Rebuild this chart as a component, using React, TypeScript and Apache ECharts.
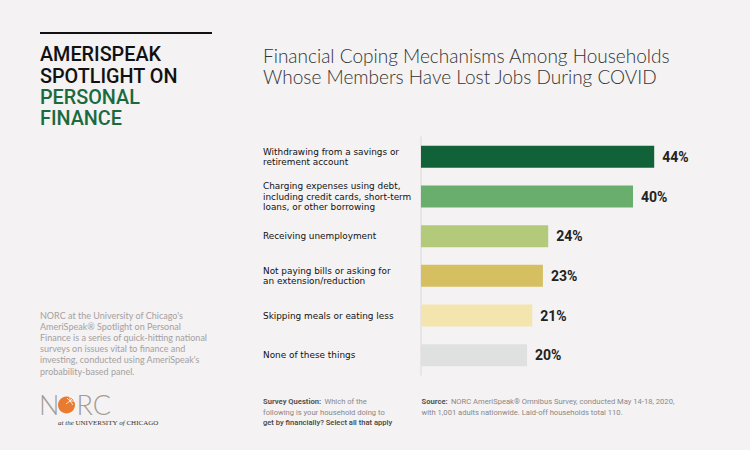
import React, { useEffect, useRef } from "react";
import * as echarts from "echarts";

const categories = [
  "Withdrawing from a savings or\nretirement account",
  "Charging expenses using debt,\nincluding credit cards, short-term\nloans, or other borrowing",
  "Receiving unemployment",
  "Not paying bills or asking for\nan extension/reduction",
  "Skipping meals or eating less",
  "None of these things",
];
const values = [44, 40, 24, 23, 21, 20];
const barColors = ["#116238", "#69ae6d", "#b3ca7a", "#d5bf60", "#f4e4ae", "#dfe0e0"];

const headingDark = ["AMERISPEAK", "SPOTLIGHT ON"];
const headingGreen = ["PERSONAL", "FINANCE"];
const titleLines = [
  "Financial Coping Mechanisms Among Households",
  "Whose Members Have Lost Jobs During COVID",
];
const description =
  "NORC at the University of Chicago's\nAmeriSpeak® Spotlight on Personal\nFinance is a series of quick-hitting national\nsurveys on issues vital to finance and\ninvesting, conducted using AmeriSpeak's\nprobability-based panel.";

export default function App() {
  const ref = useRef<HTMLDivElement>(null);
  useEffect(() => {
    document.body.style.margin = "0";
    document.body.style.background = "#f4f2f3";
    const chart = echarts.init(ref.current!, null, { renderer: "svg" });
    const heading: any[] = [];
    const hy = [54.7, 76.7, 97.7, 118.7];
    [...headingDark, ...headingGreen].forEach((t, i) => {
      heading.push({
        type: "text",
        x: 40,
        y: hy[i],
        style: {
          text: t,
          fill: i < 2 ? "#111111" : "#1a6a3e",
          font: "500 19.8px Roboto",
          verticalAlign: "middle",
          align: "left",
        },
      });
    });
    const titles = titleLines.map((t, i) => ({
      type: "text",
      x: 263,
      y: [55.3, 76.3][i],
      style: {
        text: t,
        fill: "#333333",
        font: "300 19px Lato",
        verticalAlign: "middle",
      },
    }));
    chart.setOption({
      animation: false,
      backgroundColor: "#f4f2f3",
      grid: { left: 421, top: 137, width: 318, height: 238, containLabel: false },
      xAxis: { type: "value", min: 0, max: 60, show: false },
      yAxis: {
        type: "category",
        data: categories,
        inverse: true,
        axisLine: { show: true, lineStyle: { color: "#e3e1e2", width: 1.5 } },
        axisTick: { show: false },
        splitLine: { show: false },
        axisLabel: {
          align: "left",
          margin: 158,
          fontSize: 8.9,
          lineHeight: 10.4,
          color: "#111111",
          fontFamily: "DejaVu Sans",
        },
      },
      series: [
        {
          type: "bar",
          barWidth: 22,
          data: values.map((v, i) => ({ value: v, itemStyle: { color: barColors[i] } })),
          label: {
            show: true,
            position: "right",
            distance: 8,
            formatter: "{c}%",
            fontSize: 14,
            fontWeight: "bold",
            color: "#222222",
            fontFamily: "Roboto",
          },
        },
      ],
      graphic: [
        {
          type: "line",
          shape: { x1: 40, y1: 33, x2: 212, y2: 33 },
          style: { stroke: "#111111", lineWidth: 2 },
        },
        ...heading,
        ...titles,
        {
          type: "text",
          x: 40,
          y: 343,
          style: {
            text: description,
            fill: "#a5a1a1",
            font: "9px Lato",
            lineHeight: 11.2,
            verticalAlign: "middle",
          },
        },
        {
          type: "text",
          x: 263,
          y: 411,
          style: {
            text: "{b|Survey Question:} {n|Which of the}\n{n|following is your household doing to}\n{d|get by financially? Select all that apply}",
            verticalAlign: "middle",
            rich: {
              b: { fontFamily: "Roboto", fontSize: 7.6, fontWeight: "bold", fill: "#555555", lineHeight: 10 },
              n: { fontFamily: "Roboto", fontSize: 7.6, fill: "#8a8888", lineHeight: 10 },
              d: { fontFamily: "Roboto", fontSize: 7.6, fontWeight: 500, fill: "#444444", lineHeight: 10 },
            },
          },
        },
        {
          type: "text",
          x: 421.5,
          y: 406,
          style: {
            text: "{b|Source:} {n|NORC AmeriSpeak® Omnibus Survey, conducted May 14-18, 2020,}\n{n|with 1,001 adults nationwide. Laid-off households total 110.}",
            verticalAlign: "middle",
            rich: {
              b: { fontFamily: "Roboto", fontSize: 7.6, fontWeight: "bold", fill: "#555555", lineHeight: 10 },
              n: { fontFamily: "Roboto", fontSize: 7.6, fill: "#8a8888", lineHeight: 10 },
            },
          },
        },
        {
          type: "text",
          x: 39,
          y: 404.5,
          style: { text: "N", font: "300 27px Lato", lineHeight: 18, fill: "#a39d95", verticalAlign: "middle" },
        },
        {
          type: "circle",
          shape: { cx: 66.5, cy: 405, r: 8.5 },
          style: { fill: "#e87b2f" },
        },
        ...[
          [70, 401, 74, 397],
          [70, 401, 75, 401],
          [70, 401, 70, 396],
          [70, 401, 66, 404],
          [70, 401, 73, 405],
          [70, 401, 67, 398],
        ].map((p) => ({
          type: "line",
          shape: { x1: p[0], y1: p[1], x2: p[2], y2: p[3] },
          style: { stroke: "#ffffff", lineWidth: 0.8 },
        })),
        {
          type: "text",
          x: 76.5,
          y: 404.5,
          style: { text: "RC", font: "300 27px Lato", lineHeight: 18, fill: "#a39d95", verticalAlign: "middle" },
        },
        {
          type: "text",
          x: 58,
          y: 423,
          style: {
            text: "{i|at the }{c|UNIVERSITY}{i| of }{c|CHICAGO}",
            verticalAlign: "middle",
            rich: {
              i: { fontFamily: "Liberation Serif", fontStyle: "italic", fontSize: 7, fill: "#333333", lineHeight: 7 },
              c: { fontFamily: "Liberation Serif", fontSize: 7, fill: "#333333", lineHeight: 7 },
            },
          },
        },
      ],
    });
    return () => chart.dispose();
  }, []);
  return (
    <div
      ref={ref}
      style={{ position: "absolute", left: 0, top: 0, width: 750, height: 450 }}
    />
  );
}
